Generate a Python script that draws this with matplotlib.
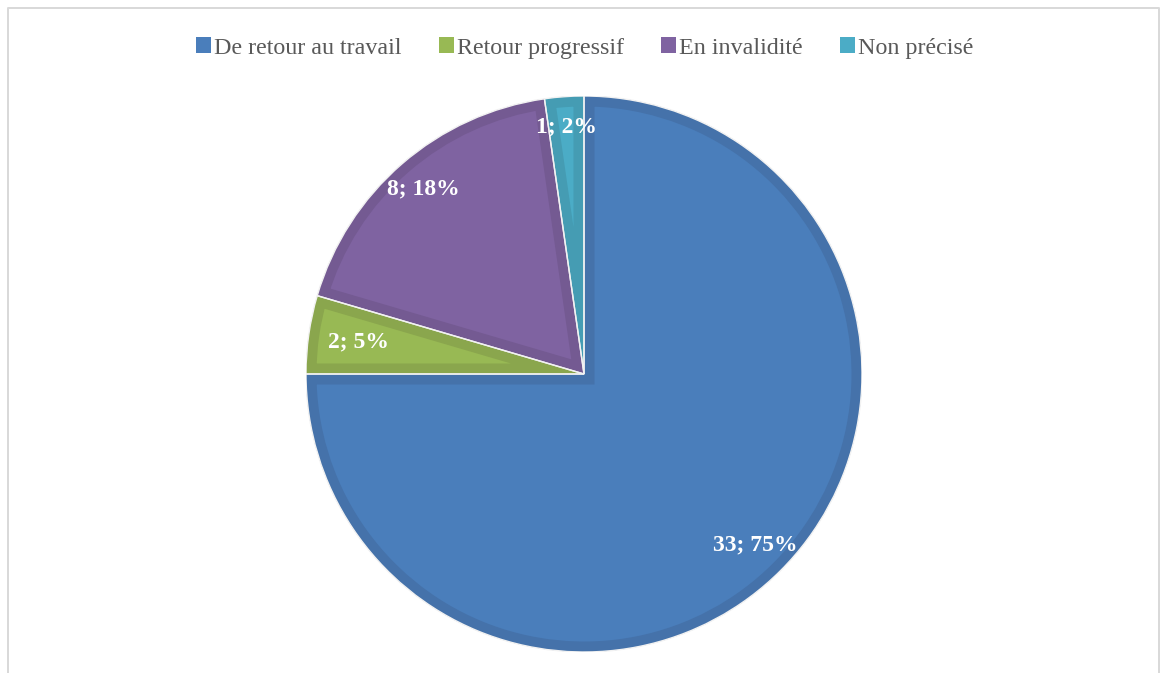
import numpy as np
import matplotlib
matplotlib.use("Agg")
import matplotlib.pyplot as plt
from matplotlib.patches import Patch, Wedge
from matplotlib.lines import Line2D

# Data
categories = ["De retour au travail", "Retour progressif", "En invalidité", "Non précisé"]
counts = [33, 2, 8, 1]
face_colors = ["#4A7EBB", "#98B954", "#7F63A1", "#4BACC6"]
rim_colors = ["#4572AA", "#8AA64D", "#745A92", "#459CB3"]
label_radius = [0.87, 0.82, 0.88, 0.89]

W, H, DPI = 1161, 673, 100
fig = plt.figure(figsize=(W / DPI, H / DPI), dpi=DPI)
fig.patch.set_facecolor("white")

# Pie box: centre (584, 374) px, radius 278 px
cx, cy, r = 584, 374, 278
ax = fig.add_axes([(cx - r) / W, (H - cy - r) / H, 2 * r / W, 2 * r / H])

wedges, _ = ax.pie(counts, colors=face_colors, startangle=90, counterclock=False,
                   radius=1.0, wedgeprops=dict(linewidth=0))
ax.set_xlim(-1, 1)
ax.set_ylim(-1, 1)
ax.set_aspect("equal")
ax.axis("off")

rim_pt = 21 * 72 / DPI
for w, rim in zip(wedges, rim_colors):
    # inner darker rim: a thick stroke clipped to the wedge itself
    band = Wedge(w.center, w.r, w.theta1, w.theta2, facecolor="none",
                 edgecolor=rim, linewidth=rim_pt, joinstyle="miter",
                 transform=ax.transData, zorder=2)
    ax.add_patch(band)
    band.set_clip_path(w)
    # thin light outline
    ax.add_patch(Wedge(w.center, w.r, w.theta1, w.theta2, facecolor="none",
                       edgecolor="#F2F2F2", linewidth=1.0, transform=ax.transData,
                       zorder=3))

total = sum(counts)
for w, n, rd in zip(wedges, counts, label_radius):
    ang = np.deg2rad((w.theta1 + w.theta2) / 2)
    pct = round(100 * n / total)
    ax.text(rd * np.cos(ang), rd * np.sin(ang), f"{n}; {pct}%", ha="center", va="center",
            color="white", fontsize=17, fontweight="bold", family="Liberation Serif",
            zorder=5)

# Legend
handles = [Patch(facecolor=c, edgecolor="none") for c in face_colors]
fig.legend(handles, categories, loc="center", bbox_to_anchor=(585 / W, 1 - 48 / H),
           ncol=4, frameon=False, prop={"family": "Liberation Serif", "size": 17.3},
           labelcolor="#595959", handlelength=0.6, handleheight=0.6,
           handletextpad=0.15, columnspacing=1.55, borderaxespad=0)

# Chart-area frame
fx0, fx1, fy = 8 / W, 1159 / W, 1 - 8 / H
fig.add_artist(Line2D([fx0, fx0, fx1, fx1], [0, fy, fy, 0], color="#D9D9D9",
                      linewidth=2 * 72 / DPI, transform=fig.transFigure))

fig.savefig("out.png", dpi=DPI, facecolor="white")
